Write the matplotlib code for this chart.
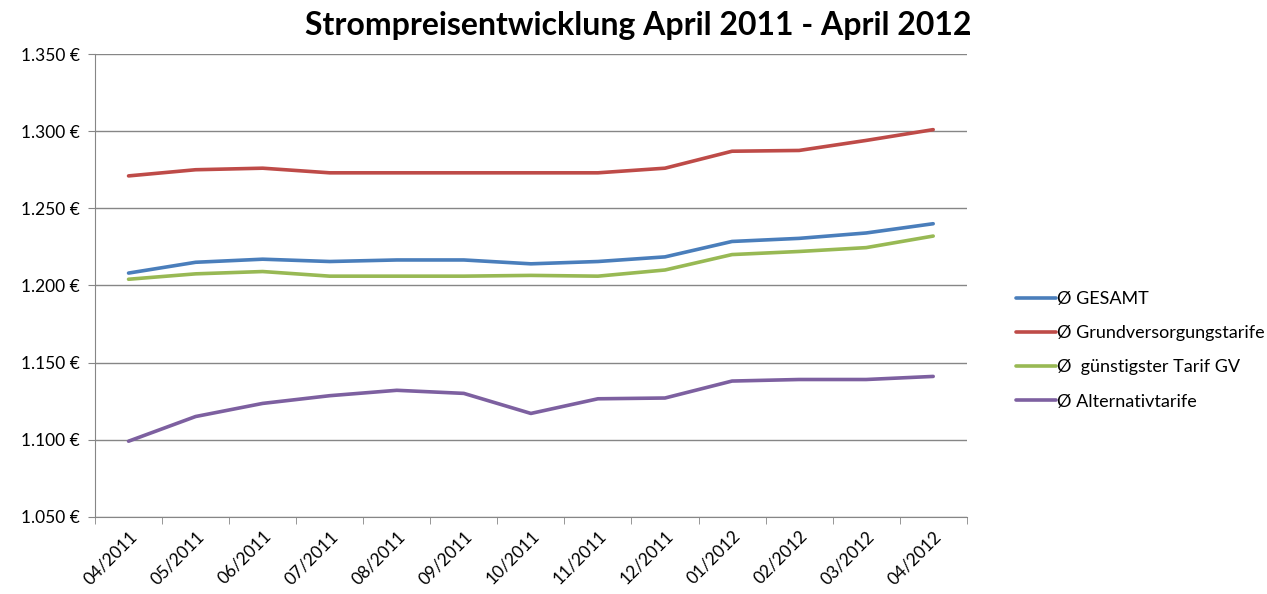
import matplotlib
matplotlib.use("Agg")
import matplotlib.pyplot as plt
from matplotlib.ticker import FuncFormatter, FixedLocator

# Months on the x axis
months = ['04/2011', '05/2011', '06/2011', '07/2011', '08/2011', '09/2011', '10/2011',
          '11/2011', '12/2011', '01/2012', '02/2012', '03/2012', '04/2012']

# Average annual prices in euro
gesamt = [1208, 1215, 1217, 1215.5, 1216.5, 1216.5, 1214, 1215.5, 1218.5, 1228.5, 1230.5, 1234, 1240]
grundversorgung = [1271, 1275, 1276, 1273, 1273, 1273, 1273, 1273, 1276, 1287, 1287.5, 1294, 1301]
guenstigster_gv = [1204, 1207.5, 1209, 1206, 1206, 1206, 1206.5, 1206, 1210, 1220, 1222, 1224.5, 1232]
alternativ = [1099, 1115, 1123.5, 1128.5, 1132, 1130, 1117, 1126.5, 1127, 1138, 1139, 1139, 1141]

labels = ['Ø GESAMT', 'Ø Grundversorgungstarife', 'Ø  günstigster Tarif GV', 'Ø Alternativtarife']
colors = ['#4A7EBB', '#BE4B48', '#98B954', '#7D60A0']

plt.rcParams['font.family'] = ['Lato', 'DejaVu Sans']

fig = plt.figure(figsize=(12.67, 5.94), dpi=100)
ax = fig.add_axes([0.075, 0.130, 0.688, 0.779])

x = list(range(len(months)))
for series, label, color in zip([gesamt, grundversorgung, guenstigster_gv, alternativ], labels, colors):
    ax.plot(x, series, color=color, linewidth=2.6, label=label, solid_capstyle='round')

ax.set_xlim(-0.5, len(months) - 0.5)
ax.set_ylim(1050, 1350)
ax.set_yticks(range(1050, 1351, 50))
ax.yaxis.set_major_formatter(FuncFormatter(lambda v, p: '{:,.0f} €'.format(v).replace(',', '.')))

ax.set_xticks(x)
ax.set_xticklabels(months, rotation=45, ha='right', rotation_mode='anchor', fontsize=12.5)
ax.xaxis.set_minor_locator(FixedLocator([i - 0.5 for i in range(len(months) + 1)]))
ax.tick_params(axis='x', which='major', length=0, pad=8)
ax.tick_params(axis='x', which='minor', length=5, color='#868686')
ax.tick_params(axis='y', length=5, color='#868686', labelsize=12.5, pad=6)

ax.grid(axis='y', color='#868686', linewidth=1)
ax.set_axisbelow(True)
for side in ['top', 'right']:
    ax.spines[side].set_visible(False)
for side in ['left', 'bottom']:
    ax.spines[side].set_color('#868686')

fig.suptitle('Strompreisentwicklung April 2011 - April 2012', x=0.504, y=0.982,
             fontsize=23, fontweight='bold')

fig.legend(loc='center left', bbox_to_anchor=(0.789, 0.41), frameon=False, fontsize=13,
           handlelength=2.2, handletextpad=0.1, labelspacing=1.0)

fig.savefig('out.png', dpi=100)
